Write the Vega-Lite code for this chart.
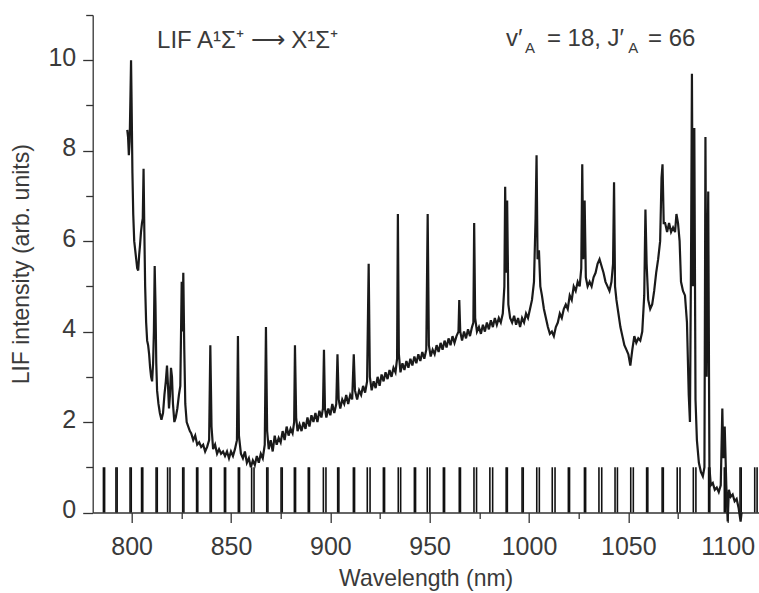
{
  "$schema": "https://vega.github.io/schema/vega-lite/v6.json",
  "width": 666,
  "height": 497.5,
  "autosize": {"type": "none"},
  "padding": {"left": 92.7, "top": 15, "right": 0, "bottom": 80.5},
  "background": "white",
  "config": {
    "view": {"stroke": null},
    "font": "Liberation Sans",
    "axis": {"grid": false, "domainColor": "#333", "tickColor": "#333", "labelColor": "#3a3a3a", "titleColor": "#3a3a3a", "labelFont": "Liberation Sans", "titleFont": "Liberation Sans", "labelFontSize": 25, "titleFontSize": 23, "titleFontWeight": "normal", "domainWidth": 1.3, "tickWidth": 1.3}
  },
  "datasets": {
    "spec": [
      {"w":797.8,"i":8.46},{"w":798.2,"i":8.3},{"w":798.6,"i":7.9},{"w":799.0,"i":8.2},{"w":799.4,"i":9.2},{"w":799.7,"i":10.0},{"w":800.0,"i":9.0},{"w":800.4,"i":7.5},{"w":800.8,"i":6.6},{"w":801.3,"i":6.0},{"w":801.8,"i":5.8},{"w":802.3,"i":5.6},{"w":802.8,"i":5.4},{"w":803.3,"i":5.35},{"w":803.8,"i":5.7},{"w":804.2,"i":5.9},{"w":804.7,"i":6.2},{"w":805.2,"i":6.4},{"w":805.6,"i":6.5},{"w":806.0,"i":7.6},{"w":806.4,"i":6.2},{"w":806.8,"i":5.0},{"w":807.3,"i":4.2},{"w":807.8,"i":3.8},{"w":808.3,"i":3.7},{"w":808.8,"i":3.5},{"w":809.3,"i":3.2},{"w":809.8,"i":3.0},{"w":810.3,"i":2.9},{"w":810.8,"i":3.3},{"w":811.2,"i":4.0},{"w":811.6,"i":5.45},{"w":812.0,"i":4.6},{"w":812.4,"i":3.3},{"w":812.8,"i":2.7},
      {"w":813.5,"i":2.4},{"w":814.2,"i":2.2},{"w":815.0,"i":2.05},{"w":815.8,"i":2.2},{"w":816.5,"i":2.6},{"w":817.2,"i":2.9},{"w":817.8,"i":3.25},{"w":818.3,"i":2.8},{"w":818.8,"i":2.3},{"w":819.3,"i":2.6},{"w":819.8,"i":3.2},{"w":820.3,"i":3.0},{"w":820.8,"i":2.4},{"w":821.5,"i":2.0},{"w":822.2,"i":2.1},{"w":823.0,"i":2.3},{"w":823.8,"i":2.6},{"w":824.5,"i":2.8},{"w":825.2,"i":5.1},{"w":825.6,"i":4.0},{"w":826.0,"i":5.3},{"w":826.5,"i":3.6},{"w":827.0,"i":2.4},{"w":827.7,"i":2.0},{"w":828.5,"i":1.9},{"w":829.3,"i":1.8},{"w":830.0,"i":1.75},{"w":831.0,"i":1.6},{"w":832.0,"i":1.7},{"w":833.0,"i":1.5},{"w":834.0,"i":1.55},{"w":835.0,"i":1.45},{"w":836.0,"i":1.5},{"w":837.0,"i":1.35},{"w":838.0,"i":1.45},{"w":839.0,"i":1.6},{"w":839.6,"i":3.7},{"w":840.2,"i":1.9},{"w":841.0,"i":1.4},{"w":842.0,"i":1.5},{"w":843.0,"i":1.3},{"w":844.0,"i":1.4},{"w":845.0,"i":1.3},{"w":846.0,"i":1.35},{"w":847.0,"i":1.25},{"w":848.0,"i":1.35},{"w":849.0,"i":1.2},{"w":850.0,"i":1.35},{"w":851.0,"i":1.25},{"w":852.0,"i":1.4},{"w":853.0,"i":1.6},{"w":853.5,"i":3.9},{"w":854.0,"i":1.7},{"w":855.0,"i":1.3},{"w":856.0,"i":1.2},{"w":857.0,"i":1.35},{"w":858.0,"i":1.1},{"w":859.0,"i":1.2},{"w":860.0,"i":1.0},{"w":861.0,"i":1.15},{"w":862.0,"i":1.05},{"w":863.0,"i":1.25},{"w":864.0,"i":1.1},{"w":865.0,"i":1.3},{"w":866.0,"i":1.2},{"w":867.0,"i":1.5},{"w":867.6,"i":4.1},{"w":868.2,"i":1.8},{"w":869.0,"i":1.4},{"w":870.0,"i":1.6},{"w":871.0,"i":1.35},{"w":872.0,"i":1.7},{"w":873.0,"i":1.5},{"w":874.0,"i":1.65},{"w":875.0,"i":1.55},{"w":876.0,"i":1.8},{"w":877.0,"i":1.6},{"w":878.0,"i":1.9},{"w":879.0,"i":1.7},{"w":880.0,"i":1.85},{"w":881.0,"i":1.75},{"w":881.8,"i":2.0},{"w":882.2,"i":3.7},{"w":882.8,"i":2.1},{"w":883.5,"i":1.8},{"w":884.5,"i":1.95},{"w":885.5,"i":1.8},{"w":886.5,"i":2.0},{"w":887.5,"i":1.85},{"w":888.5,"i":2.1},{"w":889.5,"i":1.9},{"w":890.5,"i":2.15},{"w":891.5,"i":2.0},{"w":892.5,"i":2.2},{"w":893.5,"i":2.0},{"w":894.5,"i":2.25},{"w":895.5,"i":2.1},{"w":896.3,"i":2.3},{"w":896.8,"i":3.6},{"w":897.3,"i":2.3},{"w":898.0,"i":2.1},{"w":899.0,"i":2.3},{"w":900.0,"i":2.15},{"w":901.0,"i":2.4},{"w":902.0,"i":2.2},{"w":903.0,"i":2.4},{"w":903.6,"i":3.5},{"w":904.2,"i":2.5},{"w":905.0,"i":2.3},{"w":906.0,"i":2.5},{"w":907.0,"i":2.4},{"w":908.0,"i":2.6},{"w":909.0,"i":2.4},{"w":910.0,"i":2.6},{"w":911.0,"i":2.5},{"w":911.8,"i":3.5},{"w":912.4,"i":2.7},{"w":913.5,"i":2.5},{"w":914.5,"i":2.7},{"w":915.5,"i":2.6},{"w":916.5,"i":2.8},{"w":917.5,"i":2.65},{"w":918.5,"i":2.9},{"w":919.3,"i":5.5},{"w":919.9,"i":3.0},{"w":920.8,"i":2.7},{"w":921.8,"i":2.9},{"w":922.8,"i":2.75},{"w":923.8,"i":3.0},{"w":924.8,"i":2.8},{"w":925.8,"i":3.05},{"w":926.8,"i":2.9},{"w":927.8,"i":3.1},{"w":928.8,"i":2.95},{"w":929.8,"i":3.15},{"w":930.8,"i":3.0},{"w":931.8,"i":3.2},{"w":932.8,"i":3.1},{"w":933.6,"i":3.4},{"w":934.0,"i":6.6},{"w":934.5,"i":3.5},{"w":935.3,"i":3.1},{"w":936.3,"i":3.3},{"w":937.3,"i":3.15},{"w":938.3,"i":3.35},{"w":939.3,"i":3.2},{"w":940.3,"i":3.4},{"w":941.3,"i":3.25},{"w":942.3,"i":3.45},{"w":943.3,"i":3.3},{"w":944.3,"i":3.5},{"w":945.3,"i":3.35},{"w":946.3,"i":3.55},{"w":947.3,"i":3.4},{"w":948.3,"i":3.6},{"w":949.0,"i":6.6},{"w":949.6,"i":3.7},{"w":950.5,"i":3.45},{"w":951.5,"i":3.6},{"w":952.5,"i":3.5},{"w":953.5,"i":3.7},{"w":954.5,"i":3.55},{"w":955.5,"i":3.75},{"w":956.5,"i":3.6},{"w":957.5,"i":3.8},{"w":958.5,"i":3.65},{"w":959.5,"i":3.85},{"w":960.5,"i":3.7},{"w":961.5,"i":3.9},{"w":962.5,"i":3.75},{"w":963.5,"i":3.9},{"w":964.5,"i":4.0},{"w":964.9,"i":4.7},{"w":965.4,"i":4.0},{"w":966.3,"i":3.8},{"w":967.3,"i":4.0},{"w":968.3,"i":3.85},{"w":969.3,"i":4.05},{"w":970.3,"i":3.9},{"w":971.3,"i":4.1},{"w":972.0,"i":4.2},{"w":972.4,"i":6.4},{"w":972.9,"i":4.3},{"w":973.8,"i":4.0},{"w":974.8,"i":4.1},{"w":975.8,"i":3.95},{"w":976.8,"i":4.15},{"w":977.8,"i":4.0},{"w":978.8,"i":4.2},{"w":979.8,"i":4.05},{"w":980.8,"i":4.25},{"w":981.8,"i":4.1},{"w":982.8,"i":4.3},{"w":983.8,"i":4.15},{"w":984.8,"i":4.3},{"w":985.8,"i":4.2},{"w":986.8,"i":4.4},{"w":987.6,"i":5.0},{"w":988.0,"i":7.2},{"w":988.5,"i":5.3},{"w":989.0,"i":6.9},{"w":989.6,"i":4.6},{"w":990.5,"i":4.3},{"w":991.5,"i":4.2},{"w":992.5,"i":4.35},{"w":993.5,"i":4.15},{"w":994.5,"i":4.3},{"w":995.5,"i":4.1},{"w":996.5,"i":4.3},{"w":997.5,"i":4.2},{"w":998.5,"i":4.4},{"w":999.5,"i":4.3},{"w":1000.5,"i":4.5},{"w":1001.5,"i":4.7},{"w":1002.5,"i":5.1},{"w":1003.3,"i":6.5},{"w":1003.8,"i":7.9},{"w":1004.3,"i":5.6},{"w":1005.0,"i":5.8},{"w":1005.7,"i":5.0},{"w":1006.5,"i":4.8},{"w":1007.5,"i":4.5},{"w":1008.5,"i":4.3},{"w":1009.5,"i":4.1},{"w":1010.5,"i":3.95},{"w":1011.5,"i":4.0},{"w":1012.5,"i":3.9},{"w":1013.5,"i":4.1},{"w":1014.5,"i":4.2},{"w":1015.5,"i":4.4},{"w":1016.5,"i":4.3},{"w":1017.5,"i":4.5},{"w":1018.5,"i":4.6},{"w":1019.5,"i":4.5},{"w":1020.5,"i":4.8},{"w":1021.5,"i":4.7},{"w":1022.5,"i":5.0},{"w":1023.5,"i":4.9},{"w":1024.5,"i":5.1},{"w":1025.5,"i":5.0},{"w":1026.3,"i":5.4},{"w":1026.8,"i":7.7},{"w":1027.3,"i":5.6},{"w":1028.0,"i":6.9},{"w":1028.6,"i":5.2},{"w":1029.5,"i":5.0},{"w":1030.5,"i":5.1},{"w":1031.5,"i":5.0},{"w":1032.5,"i":5.2},{"w":1033.5,"i":5.3},{"w":1034.5,"i":5.5},{"w":1035.5,"i":5.6},{"w":1036.5,"i":5.45},{"w":1037.5,"i":5.3},{"w":1038.5,"i":5.1},{"w":1039.5,"i":5.0},{"w":1040.5,"i":4.9},{"w":1041.5,"i":5.1},{"w":1042.3,"i":5.5},{"w":1042.8,"i":7.3},{"w":1043.3,"i":5.0},{"w":1044.0,"i":4.7},{"w":1045.0,"i":4.4},{"w":1046.0,"i":4.1},{"w":1047.0,"i":3.9},{"w":1048.0,"i":3.7},{"w":1049.0,"i":3.6},{"w":1050.0,"i":3.5},{"w":1051.0,"i":3.25},{"w":1052.0,"i":3.6},{"w":1053.0,"i":3.9},{"w":1054.0,"i":3.75},{"w":1055.0,"i":3.85},{"w":1056.0,"i":3.8},{"w":1057.0,"i":4.0},{"w":1058.0,"i":4.8},{"w":1058.6,"i":6.7},{"w":1059.2,"i":5.5},{"w":1060.0,"i":4.7},{"w":1061.0,"i":4.5},{"w":1062.0,"i":4.6},{"w":1063.0,"i":4.9},{"w":1064.0,"i":5.3},{"w":1065.0,"i":5.6},{"w":1066.0,"i":6.0},{"w":1066.7,"i":7.4},{"w":1067.2,"i":7.7},{"w":1067.8,"i":6.4},{"w":1068.5,"i":6.4},{"w":1069.5,"i":6.2},{"w":1070.5,"i":6.4},{"w":1071.5,"i":6.2},{"w":1072.5,"i":6.3},{"w":1073.5,"i":6.2},{"w":1074.2,"i":6.6},{"w":1075.0,"i":6.4},{"w":1075.8,"i":6.0},{"w":1076.5,"i":5.1},{"w":1077.5,"i":4.9},{"w":1078.5,"i":4.8},{"w":1079.5,"i":4.2},{"w":1080.4,"i":2.6},{"w":1081.0,"i":2.0},{"w":1081.6,"i":6.0},{"w":1082.0,"i":9.7},{"w":1082.5,"i":5.0},{"w":1083.2,"i":8.5},{"w":1083.8,"i":2.5},{"w":1084.5,"i":1.6},{"w":1085.5,"i":1.1},{"w":1086.5,"i":0.9},{"w":1087.5,"i":0.8},{"w":1088.3,"i":1.0},{"w":1088.8,"i":8.3},{"w":1089.4,"i":3.0},{"w":1090.2,"i":7.1},{"w":1090.8,"i":1.0},{"w":1091.5,"i":0.6},{"w":1092.5,"i":0.65},{"w":1093.5,"i":0.5},{"w":1094.5,"i":0.55},{"w":1095.5,"i":0.45},{"w":1096.5,"i":0.6},{"w":1097.3,"i":2.3},{"w":1097.8,"i":1.2},{"w":1098.5,"i":1.9},{"w":1099.3,"i":0.6},{"w":1100.0,"i":-0.2},{"w":1100.6,"i":0.5},{"w":1101.5,"i":0.35},{"w":1102.5,"i":0.4},{"w":1103.5,"i":0.25},{"w":1104.5,"i":0.3},{"w":1105.5,"i":0.1},{"w":1106.5,"i":-0.2},{"w":1107.0,"i":0.0}
    ],
    "sticks": [
      {"w":785.8},{"w":786.4},{"w":792.1},{"w":792.7},{"w":799.2},{"w":799.8},{"w":805.0},{"w":805.6},{"w":812.3},{"w":812.9},{"w":818.1},{"w":819.3},{"w":825.7},{"w":826.3},{"w":832.7},{"w":833.3},{"w":839.5},{"w":840.1},{"w":846.7},{"w":847.3},{"w":853.7},{"w":854.3},{"w":860.4},{"w":861.6},{"w":868.0},{"w":868.6},{"w":875.2},{"w":875.8},{"w":881.9},{"w":882.5},{"w":888.9},{"w":889.5},{"w":896.5},{"w":897.8},{"w":903.7},{"w":904.3},{"w":911.6},{"w":912.2},{"w":918.6},{"w":920.0},{"w":926.7},{"w":927.3},{"w":934.2},{"w":935.4},{"w":942.3},{"w":942.9},{"w":948.8},{"w":950.1},{"w":956.9},{"w":957.5},{"w":964.9},{"w":965.5},{"w":972.3},{"w":973.6},{"w":980.3},{"w":981.7},{"w":988.5},{"w":989.1},{"w":996.5},{"w":997.1},{"w":1003.9},{"w":1005.2},{"w":1011.7},{"w":1013.1},{"w":1019.8},{"w":1020.4},{"w":1027.9},{"w":1028.5},{"w":1035.2},{"w":1036.6},{"w":1043.3},{"w":1044.5},{"w":1051.2},{"w":1052.5},{"w":1059.2},{"w":1059.8},{"w":1067.0},{"w":1067.6},{"w":1074.6},{"w":1076.0},{"w":1082.7},{"w":1084.0},{"w":1090.4},{"w":1091.0},{"w":1098.3},{"w":1098.9},{"w":1106.2},{"w":1106.8},{"w":1113.6},{"w":1114.8}
    ],
    "notes": [
      {"x":812.8,"y":10.27,"t":"LIF A¹Σ⁺ ⟶ X¹Σ⁺","k":"main"},
      {"x":988.4,"y":10.31,"t":"v′","k":"main"},
      {"x":998.0,"y":10.16,"t":"A","k":"sub"},
      {"x":1009.0,"y":10.31,"t":"= 18, J′","k":"main"},
      {"x":1049.9,"y":10.16,"t":"A","k":"sub"},
      {"x":1059.9,"y":10.31,"t":"= 66","k":"main"}
    ]
  },
  "layer": [
    {
      "data": {"name": "sticks"},
      "mark": {"type": "rule", "color": "#111", "strokeWidth": 1.6},
      "encoding": {
        "x": {"field": "w", "type": "quantitative", "scale": {"domain": [780.4, 1115.6], "nice": false, "zero": false},
          "axis": {"title": "Wavelength (nm)", "values": [800, 825, 850, 875, 900, 925, 950, 975, 1000, 1025, 1050, 1075, 1100], "labelExpr": "datum.value % 50 === 0 ? datum.label : ''", "tickSize": {"condition": {"test": "datum.value % 50 === 0", "value": 10}, "value": 6}, "labelPadding": 12, "titlePadding": 8, "labelFlush": false, "labelOverlap": false, "format": "d"}},
        "y": {"datum": 0, "type": "quantitative", "scale": {"domain": [0, 11], "nice": false},
          "axis": {"title": "LIF intensity (arb. units)", "values": [0,1,2,3,4,5,6,7,8,9,10,11], "labelExpr": "datum.value % 2 === 0 ? datum.label : ''", "tickSize": {"condition": {"test": "datum.value % 2 === 0", "value": 10}, "value": 7}, "labelPadding": 7, "labelOffset": -3, "titlePadding": 14, "labelFlush": false, "labelOverlap": false}},
        "y2": {"datum": 1}
      }
    },
    {
      "data": {"name": "spec"},
      "mark": {"type": "line", "color": "#1a1a1a", "strokeWidth": 2.2, "clip": false},
      "encoding": {
        "x": {"field": "w", "type": "quantitative"},
        "y": {"field": "i", "type": "quantitative"}
      }
    },
    {
      "data": {"name": "notes"},
      "transform": [{"filter": "datum.k === 'main'"}],
      "mark": {"type": "text", "align": "left", "baseline": "alphabetic", "fontSize": 24, "font": "Liberation Sans", "color": "#3a3a3a"},
      "encoding": {
        "x": {"field": "x", "type": "quantitative"},
        "y": {"field": "y", "type": "quantitative"},
        "text": {"field": "t"}
      }
    },
    {
      "data": {"name": "notes"},
      "transform": [{"filter": "datum.k === 'sub'"}],
      "mark": {"type": "text", "align": "left", "baseline": "alphabetic", "fontSize": 15, "font": "Liberation Sans", "color": "#3a3a3a"},
      "encoding": {
        "x": {"field": "x", "type": "quantitative"},
        "y": {"field": "y", "type": "quantitative"},
        "text": {"field": "t"}
      }
    }
  ]
}
